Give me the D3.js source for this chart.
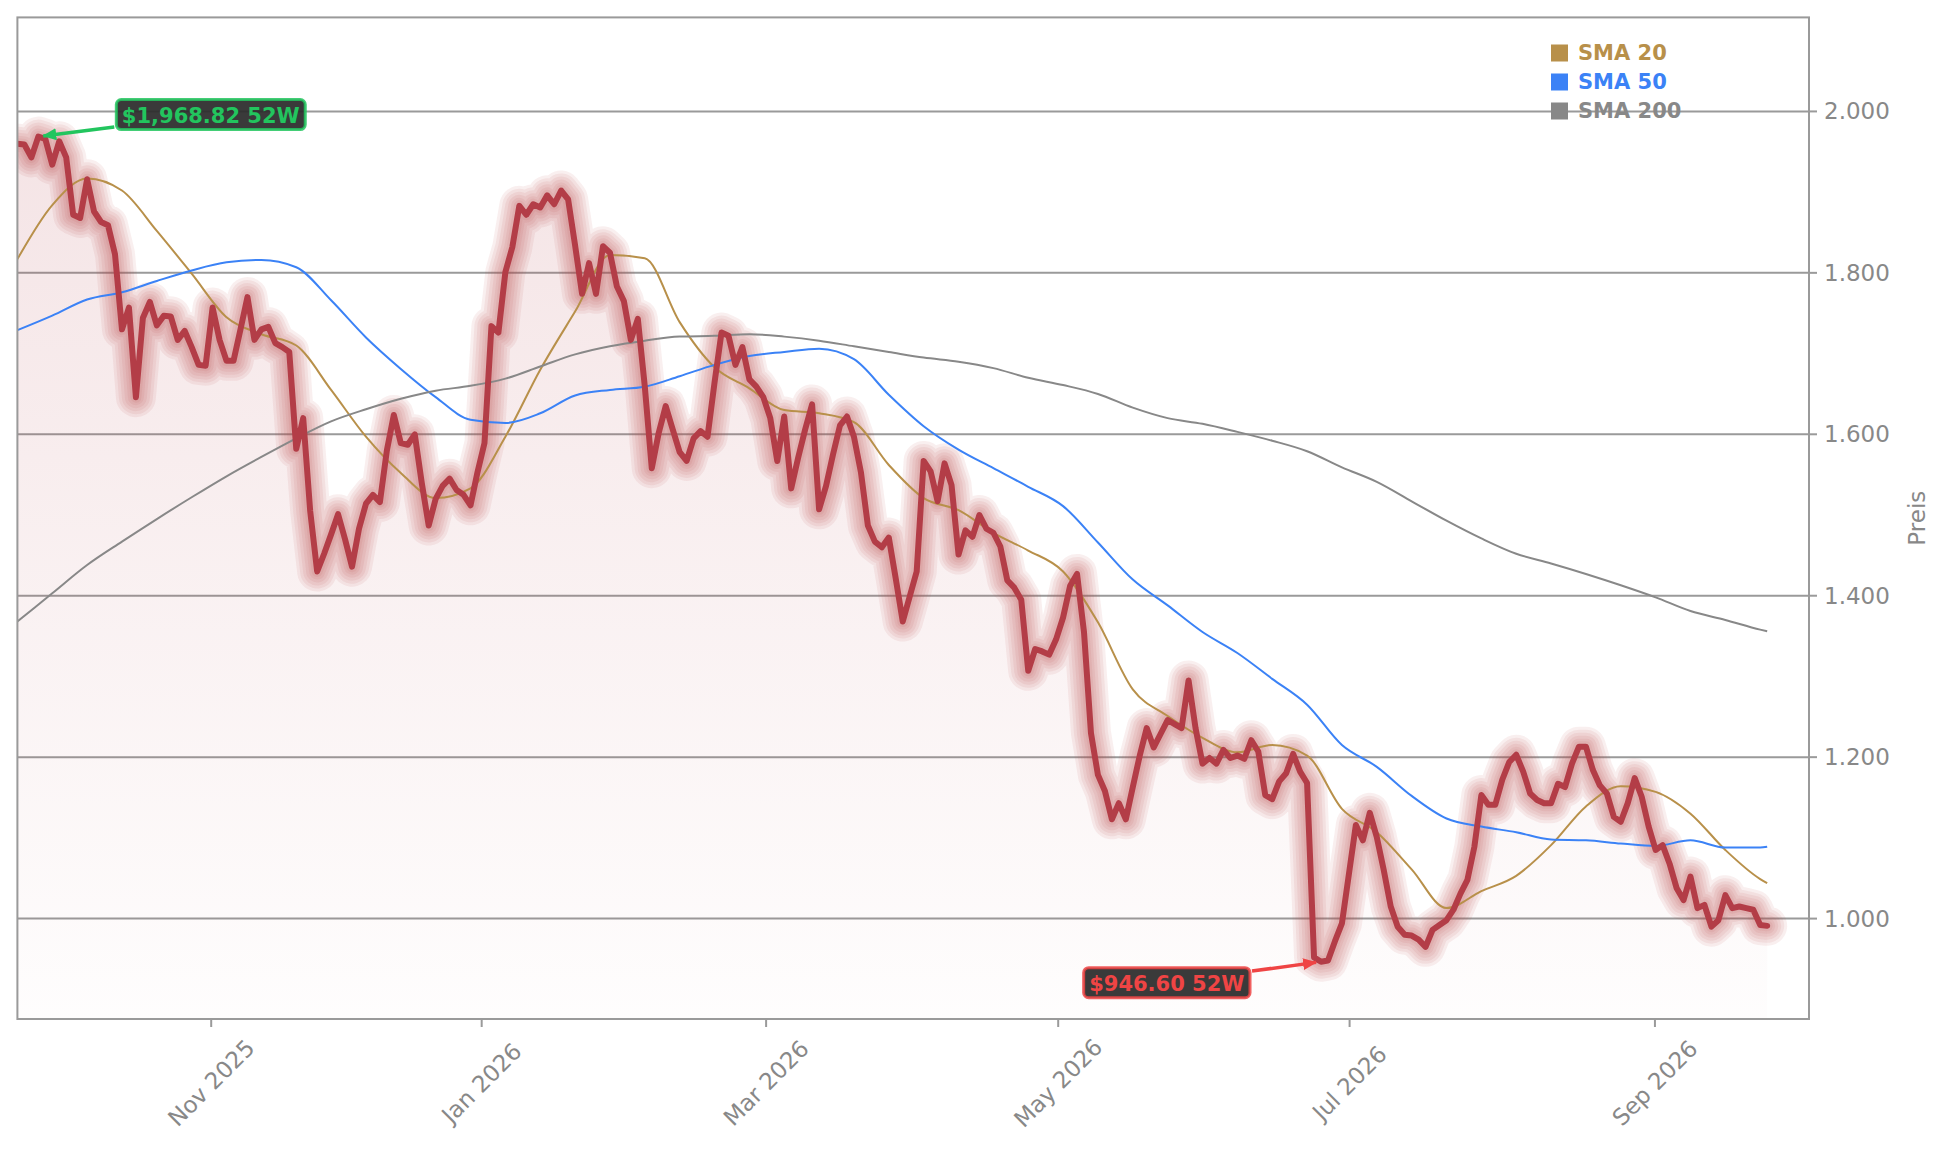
<!DOCTYPE html>
<html><head><meta charset="utf-8">
<script src="https://cdn.jsdelivr.net/npm/d3@7"></script>
<style>
html,body{margin:0;padding:0;background:#fff;}
svg{display:block;font-family:"DejaVu Sans",sans-serif;}
</style></head><body>
<svg id="chart" width="1944" height="1153"></svg>
<script>
// ---- data ----
const prices = [
1960,1959,1943,1968.82,1966,1934,1963,1943,1872,1868,
1916,1876,1863,1859,1823,1730,1757,1646,1744,1764,
1735,1747,1746,1717,1728,1708,1686,1685,1757,1717,
1691,1691,1730,1770,1717,1730,1733,1713,1708,1702,
1582,1620,1505,1430,1452,1476,1501,1470,1436,1483,
1514,1525,1516,1580,1624,1589,1587,1600,1540,1487,
1520,1536,1545,1531,1525,1512,1553,1589,1734,1726,
1801,1832,1883,1872,1885,1881,1896,1885,1902,1891,
1834,1774,1812,1774,1833,1825,1783,1765,1717,1743,
1659,1558,1602,1635,1606,1578,1567,1595,1604,1597,
1664,1726,1722,1686,1708,1668,1659,1646,1620,1567,
1622,1533,1571,1606,1637,1507,1536,1575,1611,1622,
1597,1553,1487,1467,1460,1472,1421,1368,1399,1430,
1567,1554,1517,1564,1537,1451,1481,1473,1500,1483,
1478,1461,1419,1410,1395,1307,1334,1331,1327,1346,
1373,1412,1427,1355,1230,1178,1158,1123,1143,1123,
1163,1202,1236,1212,1229,1246,1241,1236,1295,1236,
1192,1199,1192,1209,1199,1202,1198,1221,1207,1153,
1148,1170,1180,1204,1182,1168,952,946.6,948,972,
994,1055,1116,1097,1131,1101,1060,1015,990,980,
979,974,965,986,992,998,1011,1031,1048,1089,
1153,1141,1141,1172,1194,1203,1182,1155,1147,1143,
1143,1167,1163,1192,1213,1213,1184,1165,1155,1126,
1120,1143,1174,1151,1114,1085,1091,1068,1038,1023,
1052,1013,1017,990,998,1029,1013,1015,1013,1011,
992,991
];

// moving averages sampled every 5th point (0,5,...,250) plus the last point
const sma20 = [
1817,1884,1917,1902,1852,1799,1745,1724,1710,1655,
1597,1552,1521,1533,1597,1680,1752,1822,1818,1739,
1683,1657,1630,1626,1615,1562,1521,1506,1478,1456,
1430,1367,1284,1251,1224,1206,1215,1202,1136,1107,
1061,1013,1034,1053,1091,1139,1164,1157,1130,1085,
1049,1044
];
const sma50 = [
1729,1747,1767,1776,1790,1803,1813,1816,1807,1766,
1720,1681,1646,1618,1614,1626,1648,1655,1659,1672,
1686,1697,1702,1706,1693,1649,1610,1581,1558,1535,
1511,1466,1420,1388,1355,1329,1297,1265,1215,1188,
1152,1124,1114,1107,1098,1097,1093,1090,1097,1088,
1088,1089
];
const sma200 = [
1368,1403,1438,1467,1495,1522,1548,1572,1595,1616,
1631,1644,1654,1660,1669,1684,1699,1709,1716,1721,
1722,1724,1721,1716,1709,1702,1695,1690,1682,1670,
1661,1650,1633,1620,1613,1603,1592,1579,1559,1541,
1517,1493,1471,1452,1440,1427,1413,1398,1381,1370,
1358,1356
];
const smaStep = 5;

const seriesNames  = ["SMA 20", "SMA 50", "SMA 200"];
const seriesColors = ["#b8904a", "#3b82f6", "#888888"];

const xTickLabels = ["Nov 2025", "Jan 2026", "Mar 2026", "May 2026", "Jul 2026", "Sep 2026"];
const xTickIndex  = [27.8, 66.6, 107.4, 149.3, 191.1, 234.9];
const yTicks = [1000, 1200, 1400, 1600, 1800, 2000];
const yLabel = "Preis";

// ---- layout ----
const M = {left: 17.4, top: 17.4, right: 1809, bottom: 1019};
const N = prices.length;
const svg = d3.select("#chart");

const x = d3.scaleLinear().domain([0, N - 1 + 6]).range([M.left, M.right]);
const lo = d3.min(prices), hi = d3.max(prices);
const y = d3.scaleLinear().domain([lo * 0.925, hi * 1.075]).range([M.bottom, M.top]);

const smaIndex = d3.range(0, N, smaStep);
if (smaIndex[smaIndex.length - 1] !== N - 1) smaIndex.push(N - 1);

const defs = svg.append("defs");
defs.append("clipPath").attr("id", "plotClip").append("rect")
  .attr("x", M.left).attr("y", M.top)
  .attr("width", M.right - M.left).attr("height", M.bottom - M.top);

const grad = defs.append("linearGradient").attr("id", "fillGrad")
  .attr("gradientUnits", "userSpaceOnUse")
  .attr("x1", 0).attr("y1", M.top).attr("x2", 0).attr("y2", M.bottom);
grad.append("stop").attr("offset", 0).attr("stop-color", "#b5404a").attr("stop-opacity", 0.16);
grad.append("stop").attr("offset", 1).attr("stop-color", "#b5404a").attr("stop-opacity", 0.01);

function marker(id, color) {
  defs.append("marker").attr("id", id)
    .attr("markerUnits", "userSpaceOnUse")
    .attr("viewBox", "0 0 14 12").attr("refX", 13).attr("refY", 6)
    .attr("markerWidth", 14).attr("markerHeight", 12).attr("orient", "auto")
    .append("path").attr("d", "M0,0 L14,6 L0,12 Z").attr("fill", color);
}
marker("arrGreen", "#22c55e");
marker("arrRed", "#ef4444");

// grid
svg.append("g").selectAll("line").data(yTicks).join("line")
  .attr("x1", M.left).attr("x2", M.right)
  .attr("y1", d => y(d)).attr("y2", d => y(d))
  .attr("stroke", "#9a9a9a").attr("stroke-width", 2);

const plot = svg.append("g").attr("clip-path", "url(#plotClip)");

// area fill
const area = d3.area().x((d, i) => x(i)).y0(M.bottom).y1(d => y(d));
plot.append("path").datum(prices).attr("d", area).attr("fill", "url(#fillGrad)");

// glow
const line = d3.line().x((d, i) => x(i)).y(d => y(d));
[40, 34, 28, 22, 16, 11].forEach(w => {
  plot.append("path").datum(prices).attr("d", line)
    .attr("fill", "none").attr("stroke", "#b5404a").attr("stroke-opacity", 0.085)
    .attr("stroke-width", w).attr("stroke-linejoin", "round").attr("stroke-linecap", "round");
});

// moving averages
const smaLine = d3.line().x((d, k) => x(smaIndex[k])).y(d => y(d)).curve(d3.curveMonotoneX);
[sma20, sma50, sma200].forEach((s, k) => {
  plot.append("path").datum(s).attr("d", smaLine)
    .attr("fill", "none").attr("stroke", seriesColors[k]).attr("stroke-width", 2);
});

// main price line
plot.append("path").datum(prices).attr("d", line)
  .attr("fill", "none").attr("stroke", "#b33d47").attr("stroke-width", 6)
  .attr("stroke-linejoin", "round").attr("stroke-linecap", "round");

// frame
svg.append("rect").attr("x", M.left).attr("y", M.top)
  .attr("width", M.right - M.left).attr("height", M.bottom - M.top)
  .attr("fill", "none").attr("stroke", "#9a9a9a").attr("stroke-width", 2);

// right axis
const de = d3.formatLocale({decimal: ",", thousands: ".", grouping: [3], currency: ["", "€"]});
const fy = de.format(",.0f");
const ya = svg.append("g");
ya.selectAll("line").data(yTicks).join("line")
  .attr("x1", M.right).attr("x2", M.right + 8)
  .attr("y1", d => y(d)).attr("y2", d => y(d))
  .attr("stroke", "#9a9a9a").attr("stroke-width", 2);
ya.selectAll("text").data(yTicks).join("text")
  .attr("x", M.right + 15).attr("y", d => y(d))
  .attr("dominant-baseline", "central")
  .attr("font-size", 23).attr("fill", "#888")
  .text(d => fy(d));

svg.append("text")
  .attr("transform", `translate(1925,${(M.top + M.bottom) / 2}) rotate(-90)`)
  .attr("text-anchor", "middle").attr("font-size", 23).attr("fill", "#888")
  .text(yLabel);

// bottom axis
const xa = svg.append("g");
xa.selectAll("line").data(xTickIndex).join("line")
  .attr("x1", d => x(d)).attr("x2", d => x(d))
  .attr("y1", M.bottom).attr("y2", M.bottom + 8)
  .attr("stroke", "#9a9a9a").attr("stroke-width", 2);
xa.selectAll("text").data(xTickIndex).join("text")
  .attr("transform", d => `translate(${x(d)},${M.bottom + 64}) rotate(-45)`)
  .attr("text-anchor", "middle").attr("dominant-baseline", "central")
  .attr("font-size", 23).attr("fill", "#888")
  .text((d, i) => xTickLabels[i]);

// legend
const lg = svg.append("g");
seriesNames.forEach((name, k) => {
  const cy = 53 + k * 29;
  lg.append("rect").attr("x", 1551).attr("y", cy - 8.5).attr("width", 17).attr("height", 17)
    .attr("fill", seriesColors[k]);
  lg.append("text").attr("x", 1578).attr("y", cy).attr("dominant-baseline", "central")
    .attr("font-size", 21).attr("font-weight", "bold").attr("fill", seriesColors[k])
    .text(name);
});

// 52W annotations
const fm = d3.format(",.2f");
function annotate(idx, txt, color, markerId, dx, dy, anchorRight) {
  const px = x(idx), py = y(prices[idx]);
  const g = svg.append("g");
  const rect = g.append("rect");
  const t = g.append("text").attr("font-size", 21).attr("font-weight", "bold")
    .attr("fill", color).attr("text-anchor", "middle").attr("dominant-baseline", "central")
    .text(txt);
  const tw = t.node().getComputedTextLength();
  const bw = tw + 11, bh = 30;
  const left = anchorRight ? px + dx - bw : px + dx;
  const cx = left + bw / 2, cy = py + dy;
  rect.attr("x", left).attr("y", cy - bh / 2).attr("width", bw).attr("height", bh)
    .attr("rx", 5).attr("fill", "#2b2b2b").attr("fill-opacity", 0.93)
    .attr("stroke", color).attr("stroke-width", 3).attr("stroke-opacity", 0.85);
  t.attr("x", cx).attr("y", cy + 1);
  // arrow from box edge to the point
  const vx = px - cx, vy = py - cy;
  const tEdge = Math.min((bw / 2 + 2) / Math.abs(vx || 1e-9), (bh / 2 + 2) / Math.abs(vy || 1e-9));
  const sx = cx + vx * tEdge, sy = cy + vy * tEdge;
  const len = Math.hypot(vx, vy);
  const ex = px - vx / len * 5, ey = py - vy / len * 5;
  svg.insert("line", () => g.node())
    .attr("x1", sx).attr("y1", sy).attr("x2", ex).attr("y2", ey)
    .attr("stroke", color).attr("stroke-width", 3.5)
    .attr("marker-end", `url(#${markerId})`);
}
const hiIdx = prices.indexOf(hi), loIdx = prices.indexOf(lo);
annotate(hiIdx, "$" + fm(hi) + " 52W", "#22c55e", "arrGreen", 78, -22, false);
annotate(loIdx, "$" + fm(lo) + " 52W", "#ef4444", "arrRed", -71, 21, true);
</script>
</body></html>
